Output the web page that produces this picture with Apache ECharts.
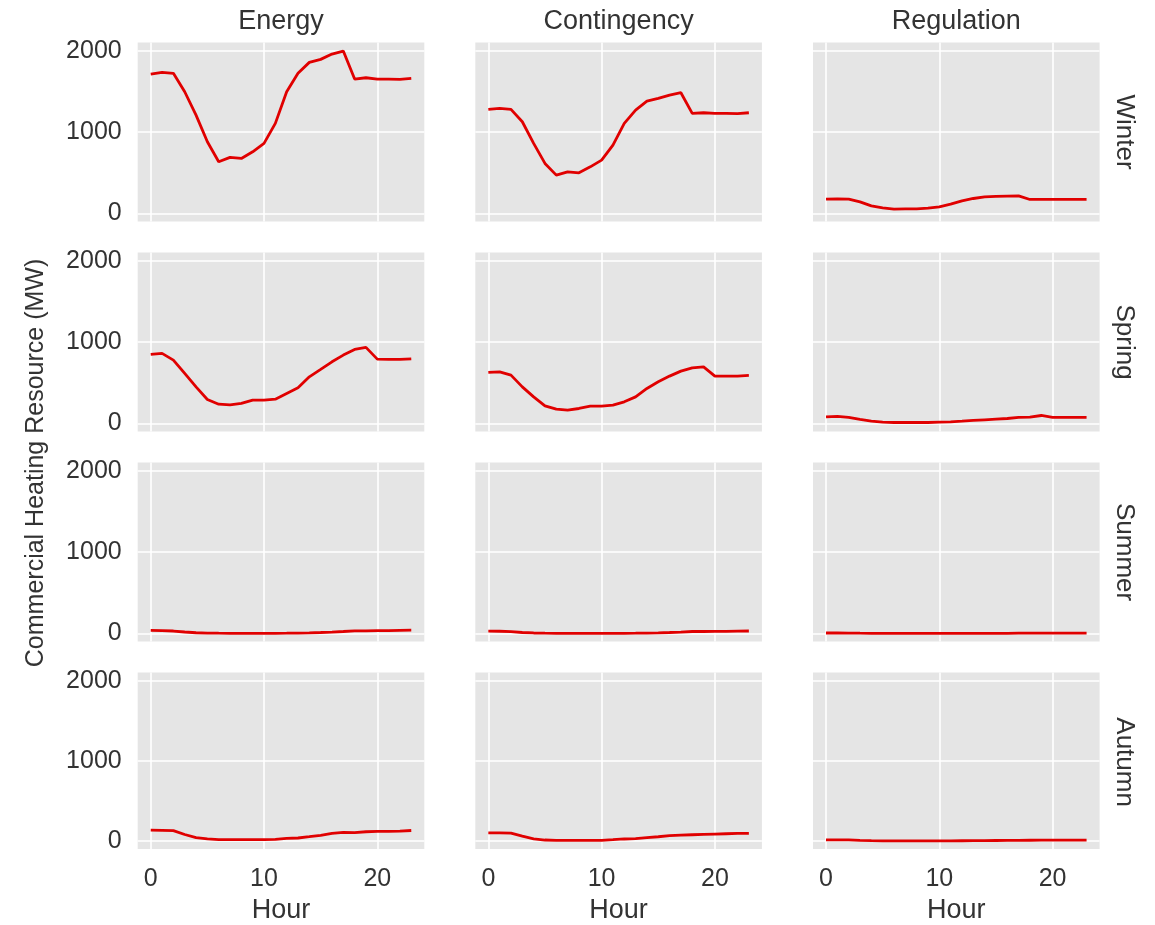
<!DOCTYPE html>
<html>
<head>
<meta charset="utf-8">
<script src="https://cdn.jsdelivr.net/npm/echarts@6/dist/echarts.min.js"></script>
<style>
html,body{margin:0;padding:0;background:#fff;}
#chart{width:1155px;height:925px;}
</style>
</head>
<body>
<div id="chart"></div>
<script>
// ---- data ----
const hours = [0,1,2,3,4,5,6,7,8,9,10,11,12,13,14,15,16,17,18,19,20,21,22,23];
const markets = ['Energy','Contingency','Regulation'];
const seasons = ['Winter','Spring','Summer','Autumn'];
const xTicks = [0,10,20];
const yTicks = [0,1000,2000];

const energyWinter      = [1713,1734,1722,1496,1209,881,635,689,676,758,861,1107,1496,1722,1857,1894,1959,1996,1652,1668,1652,1652,1648,1660];
const contingencyWinter = [1279,1291,1279,1127,861,615,471,512,500,573,656,840,1107,1271,1381,1414,1455,1484,1230,1238,1230,1230,1226,1238];
const regulationWinter  = [176,180,176,143,94,69,53,56,56,65,82,115,155,184,205,209,213,217,172,172,172,172,172,172];

const energySpring      = [849,861,779,615,450,295,237,229,246,287,287,299,369,438,573,664,758,840,910,935,791,787,787,795];
const contingencySpring = [627,635,594,450,327,217,176,164,184,213,213,225,266,327,430,512,582,643,684,696,582,582,582,590];
const regulationSpring  = [82,86,74,49,28,16,12,12,12,12,16,20,28,37,45,53,61,74,78,98,74,74,74,74];

const energySummer      = [38,36,30,18,9,5,3,2,2,2,2,2,3,5,8,12,17,24,32,32,34,36,38,40];
const contingencySummer = [28,27,22,12,6,3,2,1,1,1,1,1,2,3,5,8,12,17,24,24,25,26,28,30];
const regulationSummer  = [6,6,5,3,2,1,1,1,1,1,1,1,1,1,2,2,2,3,3,3,3,3,3,3];

const energyAutumn      = [135,133,130,81,41,25,16,16,16,16,16,20,33,37,53,70,94,107,103,115,119,119,123,131];
const contingencyAutumn = [102,100,98,61,25,12,8,8,8,8,8,16,25,29,41,53,66,74,78,82,86,90,94,94];
const regulationAutumn  = [14,14,13,8,4,2,1,1,1,1,1,2,3,4,5,6,7,8,9,10,10,10,10,10];

const panelData = [
  [energyWinter, contingencyWinter, regulationWinter],
  [energySpring, contingencySpring, regulationSpring],
  [energySummer, contingencySummer, regulationSummer],
  [energyAutumn, contingencyAutumn, regulationAutumn]
];

// ---- layout ----
const colLefts = [137.7, 475.3, 813];
const rowTops = [42.6, 252.6, 462.6, 672.6];
const pw = 286.6, ph = 179;
const font = 'Liberation Sans, Arial, sans-serif';
const textColor = '#333333';
const lineColor = '#e00000';

const grids = [], xAxes = [], yAxes = [], series = [], graphics = [];
let idx = 0;
for (let r = 0; r < 4; r++) {
  for (let c = 0; c < 3; c++) {
    grids.push({
      left: colLefts[c], top: rowTops[r], width: pw, height: ph,
      show: true, backgroundColor: '#E5E5E5', borderWidth: 0, containLabel: false
    });
    const bottom = r === 3;
    xAxes.push({
      type: 'value', gridIndex: idx, min: -1.15, max: 24.15,
      axisLine: {show: false},
      axisTick: {show: false, customValues: xTicks},
      axisLabel: {show: bottom, customValues: xTicks, formatter: v => String(v),
        fontSize: 25, color: textColor, fontFamily: font, margin: 18},
      splitLine: {show: true, lineStyle: {color: '#ffffff', width: 1.6}},
      name: bottom ? 'Hour' : '', nameLocation: 'middle', nameGap: 48,
      nameTextStyle: {fontSize: 27, color: textColor, fontFamily: font}
    });
    yAxes.push({
      type: 'value', gridIndex: idx, min: -100, max: 2100,
      axisLine: {show: false},
      axisTick: {show: false, customValues: yTicks},
      axisLabel: {show: c === 0, customValues: yTicks, formatter: v => String(v),
        fontSize: 25, color: textColor, fontFamily: font, margin: 16, padding: [5, 0, 0, 0]},
      splitLine: {show: true, lineStyle: {color: '#ffffff', width: 1.6}}
    });
    series.push({
      type: 'line', xAxisIndex: idx, yAxisIndex: idx,
      data: hours.map((h, i) => [h, panelData[r][c][i]]),
      showSymbol: false, symbol: 'none',
      lineStyle: {color: lineColor, width: 2.8},
      animation: false, silent: true
    });
    idx++;
  }
}
markets.forEach((m, c) => {
  graphics.push({
    type: 'text', x: colLefts[c] + pw / 2, y: 22,
    style: {text: m, fill: textColor, font: '27px ' + font, align: 'center', verticalAlign: 'middle'}
  });
});
seasons.forEach((s, r) => {
  graphics.push({
    type: 'text', x: 1124, y: rowTops[r] + ph / 2, rotation: -Math.PI / 2,
    style: {text: s, fill: textColor, font: '26px ' + font, align: 'center', verticalAlign: 'middle'}
  });
});
graphics.push({
  type: 'text', x: 36, y: 463, rotation: Math.PI / 2,
  style: {text: 'Commercial Heating Resource (MW)', fill: textColor, font: '25px ' + font, align: 'center', verticalAlign: 'middle'}
});

const chart = echarts.init(document.getElementById('chart'), null, {renderer: 'canvas'});
chart.setOption({
  animation: false,
  backgroundColor: '#ffffff',
  grid: grids, xAxis: xAxes, yAxis: yAxes, series: series,
  graphic: graphics
});
</script>
</body>
</html>
